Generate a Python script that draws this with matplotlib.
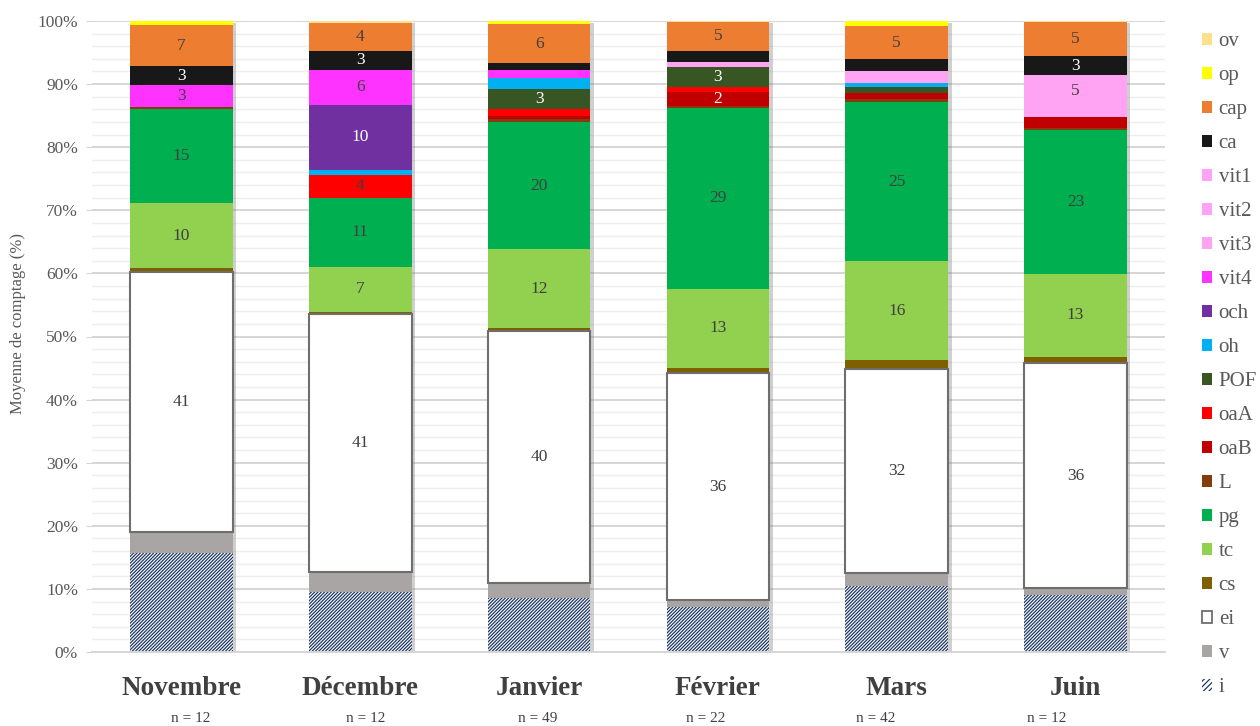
import matplotlib
matplotlib.use("Agg")
import matplotlib.pyplot as plt
import matplotlib.patheffects as pe
from matplotlib.patches import Patch
from matplotlib.ticker import MultipleLocator, PercentFormatter

plt.rcParams["font.family"] = ["Liberation Serif", "DejaVu Serif"]
plt.rcParams["hatch.linewidth"] = 0.9

# ---- data -------------------------------------------------------------
months = ["Novembre", "Décembre", "Janvier", "Février", "Mars", "Juin"]
n_counts = [12, 12, 49, 22, 42, 12]

# mean share of counts (%) per category, one value per month
i_vals    = [15.7, 9.5, 8.6, 7.1, 10.5, 9.0]
v_vals    = [3.3, 3.1, 2.3, 1.1, 2.0, 1.1]
ei_vals   = [41.2, 41.0, 40.0, 36.0, 32.4, 35.7]
cs_vals   = [0.6, 0.3, 0.5, 0.8, 1.4, 1.0]
tc_vals   = [10.4, 7.1, 12.4, 12.6, 15.6, 13.1]
pg_vals   = [14.9, 11.0, 20.2, 28.6, 25.2, 22.8]
L_vals    = [0.3, 0.0, 0.5, 0.3, 0.5, 0.4]
oaB_vals  = [0.0, 0.0, 0.5, 2.2, 1.0, 1.7]
oaA_vals  = [0.0, 3.6, 1.0, 0.8, 0.0, 0.0]
POF_vals  = [0.0, 0.0, 3.3, 3.2, 0.9, 0.0]
oh_vals   = [0.0, 0.8, 1.6, 0.0, 0.7, 0.0]
och_vals  = [0.0, 10.3, 0.0, 0.0, 0.0, 0.0]
vit4_vals = [3.4, 5.6, 1.3, 0.0, 0.0, 0.0]
vit3_vals = [0.0, 0.0, 0.0, 0.8, 1.9, 1.6]
vit2_vals = [0.0, 0.0, 0.0, 0.0, 0.0, 5.0]
vit1_vals = [0.0, 0.0, 0.0, 0.0, 0.0, 0.0]
ca_vals   = [3.0, 3.0, 1.1, 1.7, 1.8, 3.0]
cap_vals  = [6.6, 4.4, 6.2, 4.7, 5.3, 5.4]
op_vals   = [0.6, 0.0, 0.5, 0.0, 0.8, 0.0]
ov_vals   = [0.0, 0.3, 0.0, 0.1, 0.0, 0.2]

# stacking order, bottom to top
stack = [
    ("i", i_vals), ("v", v_vals), ("ei", ei_vals), ("cs", cs_vals),
    ("tc", tc_vals), ("pg", pg_vals), ("L", L_vals), ("oaB", oaB_vals),
    ("oaA", oaA_vals), ("POF", POF_vals), ("oh", oh_vals), ("och", och_vals),
    ("vit4", vit4_vals), ("vit3", vit3_vals), ("vit2", vit2_vals),
    ("vit1", vit1_vals), ("ca", ca_vals), ("cap", cap_vals),
    ("op", op_vals), ("ov", ov_vals),
]

# ---- styles -------------------------------------------------------------
colors = {
    "ov": "#FFE08F", "op": "#FFFF00", "cap": "#ED7D31", "ca": "#181818",
    "vit1": "#FFA3F2", "vit2": "#FFA3F2", "vit3": "#FFA3F2", "vit4": "#FF33FF",
    "och": "#7030A0", "oh": "#00B0F0", "POF": "#375623", "oaA": "#FF0000",
    "oaB": "#C00000", "L": "#843C0C", "pg": "#00B050", "tc": "#92D050",
    "cs": "#7F6000", "ei": "#FFFFFF", "v": "#A9A5A5", "i": "#FFFFFF",
}
hatch_color = "#1F3864"
ei_edge = "#6E6E6E"
white_text = {"ca", "och", "POF", "oaB"}
unlabelled = {"i", "v"}
label_min = 2.0
text_grey = "#595959"
dark_text = "#404040"
n_label_shift = [0.05, 0.03, -0.01, -0.07, -0.12, -0.16]

W, H = 1260, 726
fig = plt.figure(figsize=(W / 100, H / 100), dpi=100)
ax = fig.add_axes([92 / W, 1 - 652 / H, (1165 - 92) / W, (652 - 21) / H])

x = list(range(len(months)))
bar_w = 0.575

# soft drop shadow behind each full column
totals = [sum(v[k] for _, v in stack) for k in range(len(months))]
ax.bar(x, totals, width=bar_w, color="white", linewidth=0, zorder=1.5,
       path_effects=[pe.withSimplePatchShadow(offset=(2.5, -1.5),
                                              shadow_rgbFace="#7a7a7a",
                                              alpha=0.35)])

bottom = [0.0] * len(months)
for name, vals in stack:
    if name == "i":
        ax.bar(x, vals, bottom=bottom, width=bar_w, facecolor="white",
               edgecolor=hatch_color, hatch="//////////", linewidth=0,
               zorder=2)
    elif name == "ei":
        ax.bar(x, vals, bottom=bottom, width=bar_w, facecolor="white",
               edgecolor=ei_edge, linewidth=1.5, zorder=2.2)
    else:
        ax.bar(x, vals, bottom=bottom, width=bar_w, color=colors[name],
               linewidth=0, zorder=2)
    for k, val in enumerate(vals):
        if name not in unlabelled and val >= label_min:
            ax.text(x[k], bottom[k] + val / 2, f"{int(val + 0.5)}",
                    ha="center", va="center", fontsize=12.5,
                    color="white" if name in white_text else dark_text,
                    zorder=5)
    bottom = [b + v for b, v in zip(bottom, vals)]

# ---- axes -------------------------------------------------------------
ax.set_xlim(-0.5, len(months) - 0.5)
ax.set_ylim(0, 100)
ax.yaxis.set_major_locator(MultipleLocator(10))
ax.yaxis.set_minor_locator(MultipleLocator(2))
ax.yaxis.set_major_formatter(PercentFormatter(decimals=0))
ax.grid(axis="y", which="major", color="#D6D6D6", linewidth=1.4, zorder=0)
ax.grid(axis="y", which="minor", color="#EEEEEE", linewidth=1.0, zorder=0)
ax.set_axisbelow(True)
for side in ["left", "right", "top"]:
    ax.spines[side].set_visible(False)
ax.spines["bottom"].set_color("#D6D6D6")
ax.spines["bottom"].set_linewidth(1.4)
ax.tick_params(axis="y", which="major", length=4, color="#D6D6D6",
               labelsize=12.5, labelcolor=text_grey, pad=6)
ax.tick_params(axis="y", which="minor", length=0)
ax.set_xticks(x)
ax.set_xticklabels(months, fontsize=19.5, fontweight="bold", color=dark_text)
ax.tick_params(axis="x", length=0, pad=17)

for k, n in enumerate(n_counts):
    ax.text(x[k] + n_label_shift[k], -10.5, f"n = {n}", ha="center",
            va="center", fontsize=11, color=dark_text, clip_on=False)

fig.text(18 / W, 1 - 323 / H, "Moyenne de comptage (%)", rotation=90,
         ha="center", va="center", fontsize=12, color=text_grey)

# ---- legend (top entry = last stacked series) ------------------------
handles, labels = [], []
for name, _ in reversed(stack):
    if name == "i":
        h = Patch(facecolor="white", edgecolor=hatch_color, hatch="//////",
                  linewidth=0)
    elif name == "ei":
        h = Patch(facecolor="white", edgecolor=ei_edge, linewidth=1.3)
    else:
        h = Patch(facecolor=colors[name], linewidth=0)
    handles.append(h)
    labels.append(name)

fig.legend(handles, labels, loc="upper left",
           bbox_to_anchor=(1202 / W, 1 - 32 / H), frameon=False,
           fontsize=15, labelcolor=text_grey, handlelength=0.5,
           handleheight=0.5, handletextpad=0.3, labelspacing=0.72,
           borderpad=0, borderaxespad=0)

fig.savefig("out.png", dpi=100)
